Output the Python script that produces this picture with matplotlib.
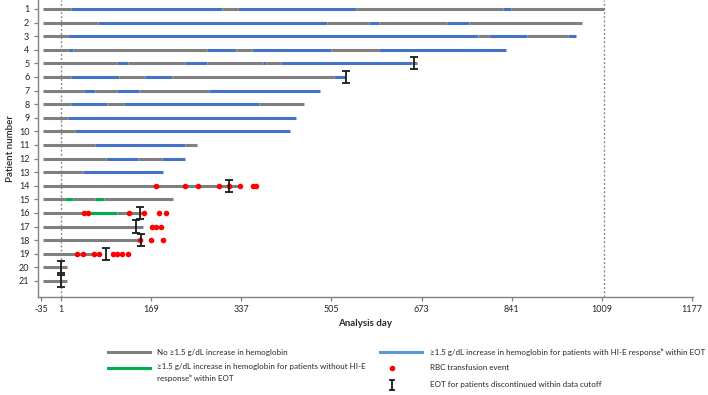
import matplotlib
matplotlib.use("Agg")
import matplotlib.pyplot as plt
from matplotlib.lines import Line2D

plt.rcParams['font.family'] = ['Lato', 'DejaVu Sans']

# ---------------- data ----------------
patients = list(range(1, 22))
bar_start = -32

# breakpoints (analysis day) of each patient's bar
seg_breaks = [
    [-32, 21, 301, 332, 551, 825, 839, 1013],
    [-32, 71, 496, 576, 594, 720, 762, 971],
    [-32, 14, 779, 799, 869, 945, 961],
    [-32, 14, 23, 273, 327, 358, 504, 594, 831],
    [-32, 105, 126, 232, 273, 378, 384, 411, 656, 665],
    [-32, 21, 110, 158, 209, 510, 533],
    [-32, 44, 65, 105, 147, 278, 484],
    [-32, 21, 87, 119, 371, 454],
    [-32, 14, 439],
    [-32, 28, 428],
    [-32, 64, 232, 254],
    [-32, 85, 145, 190, 233],
    [-32, 43, 191],
    [-32, 335],
    [-32, 9, 23, 65, 82, 211],
    [-32, 56, 105, 152],
    [-32, 154],
    [-32, 149],
    [-32, 74],
    [-32, 12],
    [-32, 12],
]
# N = no increase (gray), B = increase with HI-E response (blue), G = increase without HI-E (green)
seg_types = [
    "NBNBNBN", "NBNBNBN", "NBNBNB", "NBNBNBNB", "NBNBNBNBN", "NBNBNB", "NBNBNB",
    "NBNBN", "NB", "NB", "NBN", "NBNB", "NB", "N", "NGNGN", "NGN", "N", "N", "N", "N", "N",
]

eot_patients = [5, 6, 14, 16, 17, 18, 19, 20, 21]
eot_days = [658, 533, 315, 149, 142, 150, 86, 1, 1]

rbc_patients = [14] * 8 + [16] * 6 + [17] * 3 + [18] * 3 + [19] * 8
rbc_days = [178, 233, 257, 295, 315, 335, 360, 365,
            45, 51, 129, 157, 184, 198,
            171, 179, 187,
            149, 169, 192,
            32, 43, 63, 72, 99, 106, 116, 127]

cutoff_lines = [1, 1013]
x_ticks = [-35, 1, 169, 337, 505, 673, 841, 1009, 1177]

legend_labels = [
    "No \u22651.5 g/dL increase in hemoglobin",
    "\u22651.5 g/dL increase in hemoglobin for patients without HI-E\nresponse\u1d47 within EOT",
    "\u22651.5 g/dL increase in hemoglobin for patients with HI-E response\u1d47 within EOT",
    "RBC transfusion event",
    "EOT for patients discontinued within data cutoff",
]

# ---------------- style ----------------
colors = {"N": "#7f7f7f", "B": "#4472C4", "G": "#00B050"}
legend_blue = "#5B9BD5"
txt_col = "#262626"
spine_col = "#808080"

fig = plt.figure(figsize=(7.08, 3.95), dpi=100)
ax = fig.add_axes([38.3 / 708, 1 - 297 / 395, (693.3 - 38.3) / 708, 297 / 395])

for p, br, ty in zip(patients, seg_breaks, seg_types):
    for i, t in enumerate(ty):
        ax.plot([br[i], br[i + 1]], [p, p], color=colors[t], lw=2.2,
                solid_capstyle="butt", zorder=2)

for c in cutoff_lines:
    ax.axvline(c, color="#8c8c8c", lw=1.0, ls=(0, (1.5, 1.5)), zorder=1)

ax.plot(rbc_days, rbc_patients, "o", color="#FF0000", ms=4.0, mec="none", zorder=4)
ax.errorbar(eot_days, eot_patients, yerr=0.45, fmt="none", ecolor="#1a1a1a",
            elinewidth=1.3, capsize=2.6, capthick=1.3, zorder=5)

ax.set_xlim(-40.7, 1179)
ax.set_ylim(22.18, 0.34)
ax.set_xticks(x_ticks)
ax.set_xticklabels([str(t) for t in x_ticks])
ax.set_yticks(patients)
ax.set_yticklabels([str(p) for p in patients])
ax.tick_params(axis="both", labelsize=6.5, colors=spine_col, labelcolor=txt_col,
               length=3, width=0.9)
ax.tick_params(axis="x", pad=3)
for s in ["top", "right"]:
    ax.spines[s].set_visible(False)
for s in ["left", "bottom"]:
    ax.spines[s].set_color(spine_col)
    ax.spines[s].set_linewidth(1.0)

ax.set_ylabel("Patient number", fontsize=7, fontweight="semibold", color=txt_col, labelpad=3)
fig.text(365 / 708, 1 - 323 / 395, "Analysis day", fontsize=7, fontweight="bold",
         color=txt_col, ha="center", va="center")

# ---------------- legend (manual) ----------------
def fx(x):
    return x / 708

def fy(y):
    return 1 - y / 395

fs_leg = 5.8
rows = [352, 368, 385]
lx0, lx1, ltx = 108, 150, 157
rx0, rx1, rtx, rmk = 380, 422, 430, 392
fig.add_artist(Line2D([fx(lx0), fx(lx1)], [fy(rows[0])] * 2, color=colors["N"], lw=2.2))
fig.text(fx(ltx), fy(rows[0]), legend_labels[0], fontsize=fs_leg, color=txt_col, va="center")
fig.add_artist(Line2D([fx(lx0), fx(lx1)], [fy(rows[1])] * 2, color=colors["G"], lw=2.2))
fig.text(fx(ltx), fy(rows[1] - 4.5), legend_labels[1], fontsize=fs_leg, color=txt_col,
         va="top", linespacing=1.5)
fig.add_artist(Line2D([fx(rx0), fx(rx1)], [fy(rows[0])] * 2, color=legend_blue, lw=2.2))
fig.text(fx(rtx), fy(rows[0]), legend_labels[2], fontsize=fs_leg, color=txt_col, va="center")
fig.add_artist(Line2D([fx(rmk)], [fy(rows[1])], marker="o", color="#FF0000", ms=4.0, mec="none"))
fig.text(fx(rtx), fy(rows[1]), legend_labels[3], fontsize=fs_leg, color=txt_col, va="center")
fig.add_artist(Line2D([fx(rmk), fx(rmk)], [fy(rows[2] - 5), fy(rows[2] + 5)], color="#1a1a1a", lw=1.3))
fig.add_artist(Line2D([fx(rmk - 2.5), fx(rmk + 2.5)], [fy(rows[2] - 5)] * 2, color="#1a1a1a", lw=1.3))
fig.add_artist(Line2D([fx(rmk - 2.5), fx(rmk + 2.5)], [fy(rows[2] + 5)] * 2, color="#1a1a1a", lw=1.3))
fig.text(fx(rtx), fy(rows[2]), legend_labels[4], fontsize=fs_leg, color=txt_col, va="center")

fig.savefig("out.png", dpi=100)
